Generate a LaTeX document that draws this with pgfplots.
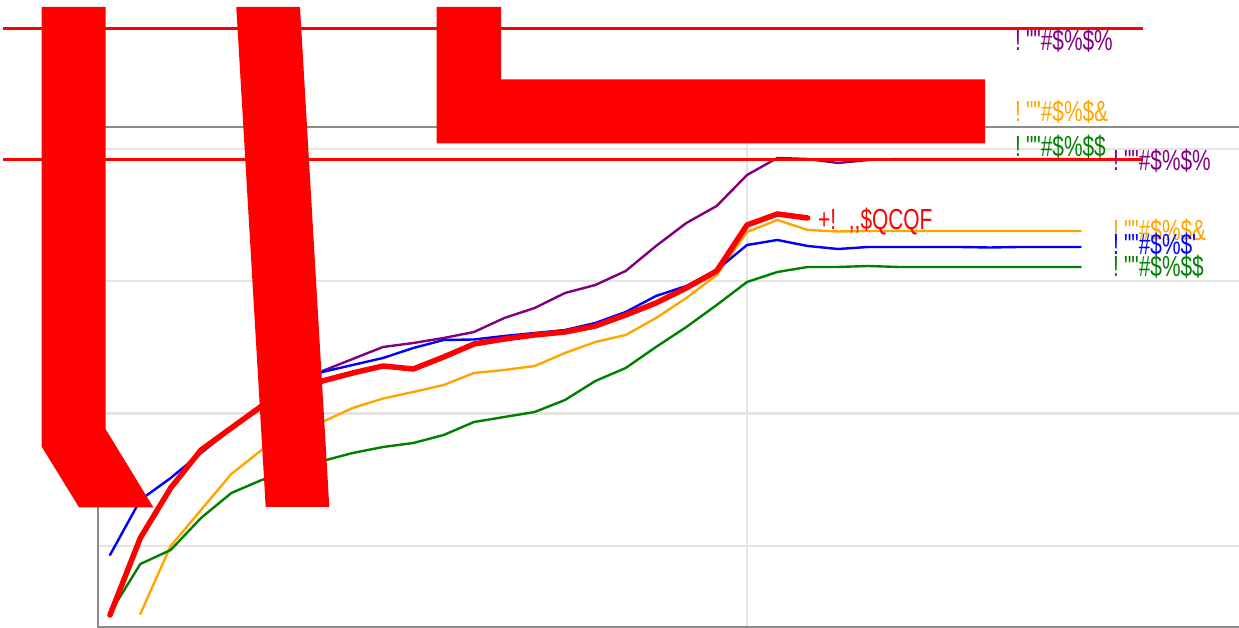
\documentclass[border=0pt]{standalone}
\usepackage{pgfplots}
\pgfplotsset{compat=1.18}
\usepackage{fontspec}
\newfontfamily\lab[FakeStretch=0.72]{Liberation Sans}
\definecolor{cpurple}{RGB}{128,0,128}
\definecolor{corange}{RGB}{255,165,0}
\definecolor{cblue}{RGB}{0,0,255}
\definecolor{cgreen}{RGB}{0,128,0}
\definecolor{cred}{RGB}{255,0,0}
\definecolor{gridc}{RGB}{228,228,228}
\definecolor{framec}{RGB}{140,140,140}
\newcommand{\ex}{!\hspace{5bp}""}
\begin{document}
\begin{tikzpicture}[x=1bp,y=1bp]
\useasboundingbox (0,0) rectangle (1239,628);
\begin{axis}[at={(98bp,1bp)}, anchor=south west, scale only axis,
  width=1141bp, height=500bp,
  xmin=-0.3956, xmax=37.22, ymin=0, ymax=500,
  xtick={21}, ytick={81,213.5,346,478},
  xticklabels={}, yticklabels={}, major tick length=0pt,
  grid=major, major grid style={gridc, line width=2.2bp},
  axis line style={draw=none},
  every axis plot/.append style={line join=round, line cap=round, mark=none}]
\addplot[cpurple, line width=2.4bp] coordinates {
 (7,256)(8,268)(9,280)(10,284)(11,289)(12,295)(13,309)(14,319)(15,334)(16,342)
 (17,356)(18,381)(19,404)(20,421)(21,452)(22,469)(23,468)(24,464)(25,467)(26,468)
 (27,468)(28,468)(29,468)(30,468)(31,468)(32,468)};
\addplot[corange, line width=2.4bp] coordinates {
 (1,13)(2,81)(3,117)(4,153)(5,177)(6,192)(7,205)(8,219)(9,228.5)(10,235)
 (11,242)(12,254)(13,257)(14,261)(15,274)(16,285)(17,292)(18,309)(19,329)(20,352)
 (21,395)(22,407)(23,397)(24,395.5)(25,396)(26,396)(27,396)(28,396)(29,396)(30,396)
 (31,396)(32,396)};
\addplot[cgreen, line width=2.4bp] coordinates {
 (0,14)(1,63)(2,77)(3,109)(4,134)(5,147)(6,156)(7,166)(8,174)(9,180)
 (10,184)(11,192)(12,205)(13,210)(14,215)(15,227)(16,246)(17,259)(18,280)(19,300)
 (20,322)(21,345)(22,355)(23,360)(24,360)(25,361)(26,360)(27,360)(28,360)(29,360)
 (30,360)(31,360)(32,360)};
\addplot[cblue, line width=2.4bp] coordinates {
 (0,72)(1,127)(2,149)(3,174)(4,198)(5,219)(6,238)(7,255)(8,262)(9,269)
 (10,279)(11,287)(12,287.5)(13,291)(14,294)(15,297)(16,304)(17,315)(18,331)(19,341)
 (20,357)(21,382)(22,387)(23,381)(24,378)(25,380)(26,380)(27,380)(28,380)(29,379.5)
 (30,380)(31,380)(32,380)};
\addplot[cred, line width=5.5bp] coordinates {
 (0,12)(1,89)(2,139)(3,177)(4,199)(5,221)(6,235)(7,246)(8,254)(9,261)
 (10,258)(11,270)(12,283)(13,288)(14,292)(15,295)(16,301)(17,312)(18,324)(19,339)
 (20,356)(21,402)(22,413)(23,409)};
\end{axis}
% axis frame (left, bottom, top)
\draw[framec, line width=2.2bp] (98,501) -- (98,1) -- (1239,1);
\draw[framec, line width=2.2bp] (98,501) -- (1239,501);
% red horizontal rules
\draw[cred, line width=3bp] (3,599) -- (1143,599);
\draw[cred, line width=3bp] (3,468) -- (1143,468);
% red shapes
\fill[cred] (41.7,621) -- (105.7,621) -- (105.7,198.7) -- (153.3,120.7) -- (79,120.7) -- (41.7,181.3) -- cycle;
\fill[cred] (236.3,621) -- (300,621) -- (329.3,121) -- (265.7,121) -- cycle;
\fill[cred] (436.7,621) -- (501,621) -- (501,548.7) -- (985,548.7) -- (985,484.7) -- (436.7,484.7) -- cycle;
% labels
\begin{scope}[every node/.style={anchor=base west, inner sep=0pt, font=\lab\fontsize{29bp}{29bp}\selectfont}]
\node[text=cpurple] at (1015,577) {\ex\#\$\%\$\%};
\node[text=corange] at (1015,506.5) {\ex\#\$\%\$\&};
\node[text=cgreen] at (1015,471.5) {\ex\#\$\%\$\$};
\node[text=cpurple] at (1113,457) {\ex\#\$\%\$\%};
\node[text=corange] at (1113,387) {\ex\#\$\%\$\&};
\node[text=cblue] at (1113,373) {\ex\#\$\%\$'};
\node[text=cgreen] at (1113,351) {\ex\#\$\%\$\$};
\node[text=cred] at (818,398) {+!\hspace{5bp} ,,\$QCQF};
\end{scope}
\end{tikzpicture}
\end{document}
